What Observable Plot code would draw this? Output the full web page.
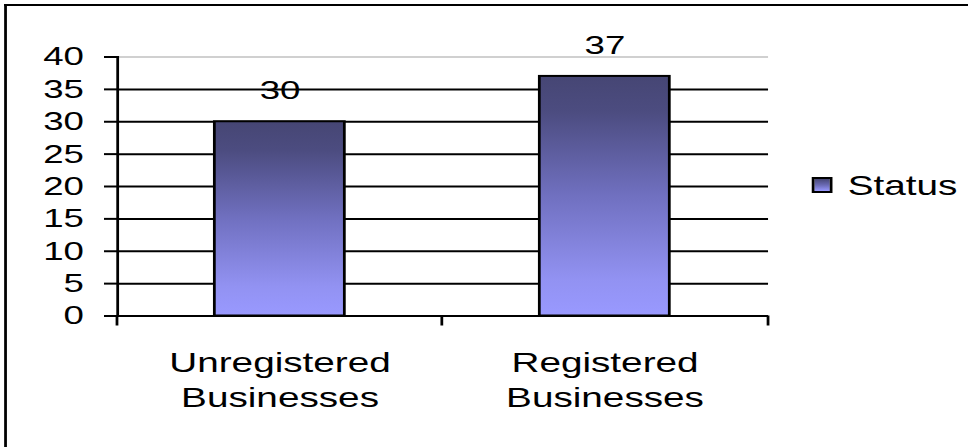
<!DOCTYPE html>
<html>
<head>
<meta charset="utf-8">
<script src="https://cdn.jsdelivr.net/npm/d3@7"></script>
<script src="https://cdn.jsdelivr.net/npm/@observablehq/plot@0.6"></script>
<style>
  html, body { margin: 0; padding: 0; background: #fff; overflow: hidden; }
  #stage {
    position: absolute; left: 0; top: 0; width: 700px; height: 447px;
    transform: scaleX(1.38286); transform-origin: 0 0;
    font-family: "Liberation Sans", Arial, sans-serif; color: #000;
  }
  #border {
    position: absolute; left: 3px; top: 4px; width: 800px; height: 600px;
    border-top: 2.5px solid #000; border-left: 2px solid #000;
  }
  #chart { position: absolute; left: 0; top: 0; }
  #legend-swatch {
    position: absolute; left: 587px; top: 177px; width: 15px; height: 16px;
    box-sizing: border-box; border: 2px solid #000;
    background: linear-gradient(to bottom, #474776 0%, #6a6ab4 50%, #9999ff 100%);
  }
  #legend-text {
    position: absolute; left: 613px; top: 172px; font-size: 28px; line-height: 28px;
    white-space: nowrap;
  }
</style>
</head>
<body>
<div id="stage">
  <div id="border"></div>
  <div id="chart"></div>
  <div id="legend-swatch"></div>
  <div id="legend-text"></div>
</div>
<script>
// ---- data ----
const categories = ["Unregistered Businesses", "Registered Businesses"];
const categoryLabels = ["Unregistered\nBusinesses", "Registered\nBusinesses"];
const values = [30, 37];
const yTicks = [0, 5, 10, 15, 20, 25, 30, 35, 40];
const seriesName = "Status";

const data = categories.map((c, i) => ({category: c, label: categoryLabels[i], value: values[i]}));

const paddingInner = 0.6;
const svgns = "http://www.w3.org/2000/svg";

function gradientDefs() {
  const defs = document.createElementNS(svgns, "defs");
  const g = document.createElementNS(svgns, "linearGradient");
  g.setAttribute("id", "barGrad");
  g.setAttribute("x1", "0"); g.setAttribute("y1", "0");
  g.setAttribute("x2", "0"); g.setAttribute("y2", "1");
  [[0, "#464674"], [0.15, "#4c4c80"], [0.5, "#7070c0"], [0.85, "#9292f2"], [1, "#9999ff"]].forEach(([o, c]) => {
    const s = document.createElementNS(svgns, "stop");
    s.setAttribute("offset", o);
    s.setAttribute("stop-color", c);
    g.appendChild(s);
  });
  defs.appendChild(g);
  return defs;
}

// category-boundary ticks on the x axis, placed from the band scale
function boundaryTicks(index, scales, values, dims) {
  const x = scales.x, y = scales.y;
  const starts = categories.map(c => x(c));
  let bw = typeof x.bandwidth === "function" ? x.bandwidth()
         : (scales.scales && scales.scales.x && scales.scales.x.bandwidth);
  if (!(bw > 0)) bw = (starts[1] - starts[0]) * (1 - paddingInner);
  const pos = [dims.marginLeft];
  for (let i = 0; i < starts.length - 1; i++) pos.push((starts[i] + bw + starts[i + 1]) / 2);
  pos.push(dims.width - dims.marginRight);
  const y0 = y(0);
  const gEl = document.createElementNS(svgns, "g");
  pos.forEach(px => {
    const l = document.createElementNS(svgns, "line");
    l.setAttribute("x1", px); l.setAttribute("x2", px);
    l.setAttribute("y1", y0); l.setAttribute("y2", y0 + 10);
    l.setAttribute("stroke", "#000"); l.setAttribute("stroke-width", 2);
    gEl.appendChild(l);
  });
  return gEl;
}

const chart = Plot.plot({
  width: 700,
  height: 447,
  marginLeft: 84.6,
  marginRight: 144.6,
  marginTop: 56.5,
  marginBottom: 131.5,
  style: {fontFamily: "Liberation Sans, Arial, sans-serif", color: "#000", background: "transparent", overflow: "visible"},
  x: {type: "band", domain: categories, paddingInner: paddingInner, paddingOuter: 0.3, axis: null},
  y: {domain: [0, 40], axis: null},
  marks: [
    gradientDefs,
    Plot.ruleY(yTicks.filter(d => d < 40), {stroke: "#000", strokeWidth: 2}),
    Plot.ruleY([40], {stroke: "#d0d0d0", strokeWidth: 2}),
    Plot.barY(data, {x: "category", y: "value", fill: "url(#barGrad)", stroke: "#000", strokeWidth: 2}),
    Plot.frame({anchor: "left", stroke: "#000", strokeWidth: 2}),
    Plot.axisY({ticks: yTicks, tickSize: 9.4, tickPadding: 15, fontSize: 26.5, stroke: "#000", strokeWidth: 2, label: null, tickFormat: d => String(d)}),
    boundaryTicks,
    Plot.text(data, {x: "category", frameAnchor: "bottom", text: "label", lineAnchor: "top", lineHeight: 1.25, dy: 31.5, fontSize: 28, fill: "#000"}),
    Plot.text(data, {x: "category", y: "value", text: d => String(d.value), lineAnchor: "middle", dy: -31, fontSize: 26.5, fill: "#000"})
  ]
});

document.getElementById("chart").appendChild(chart);
document.getElementById("legend-text").textContent = seriesName;
</script>
</body>
</html>
